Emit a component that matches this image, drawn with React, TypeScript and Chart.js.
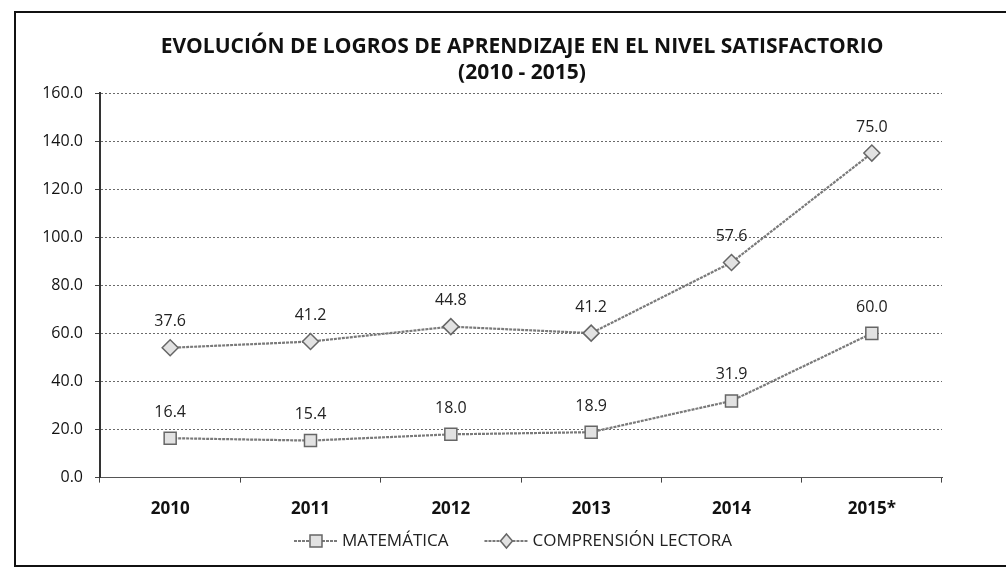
import React, { useEffect, useRef } from "react";
import { Chart, registerables } from "chart.js";

Chart.register(...registerables);

const categories = ["2010", "2011", "2012", "2013", "2014", "2015*"];
const matematica = [16.4, 15.4, 18.0, 18.9, 31.9, 60.0];
const comprension = [37.6, 41.2, 44.8, 41.2, 57.6, 75.0];
const yTicks = [0, 20, 40, 60, 80, 100, 120, 140, 160];
const titleLines = [
  "EVOLUCIÓN DE LOGROS DE APRENDIZAJE EN EL NIVEL SATISFACTORIO",
  "(2010 - 2015)",
];
const seriesNames = ["MATEMÁTICA", "COMPRENSIÓN LECTORA"];

const FONT = "'Open Sans', 'Noto Sans', sans-serif";
const LINE_COLOR = "#7a7a7a";
const MARK_BORDER = "#666";
const MARK_FILL = "#e2e2e2";

const labelPlugin = {
  id: "valueLabels",
  afterDatasetsDraw(chart: any) {
    const ctx = chart.ctx;
    ctx.save();
    ctx.font = `16px ${FONT}`;
    ctx.fillStyle = "#222";
    ctx.textAlign = "center";
    ctx.textBaseline = "middle";
    chart.data.datasets.forEach((ds: any, di: number) => {
      const meta = chart.getDatasetMeta(di);
      meta.data.forEach((pt: any, i: number) => {
        const v = ds.data[i];
        ctx.fillText(Number(v).toFixed(1), pt.x, pt.y - 26);
      });
    });
    ctx.restore();
  },
};

const titlePlugin = {
  id: "customTitle",
  afterDraw(chart: any) {
    const ctx = chart.ctx;
    ctx.save();
    ctx.font = `bold 21px ${FONT}`;
    ctx.fillStyle = "#111";
    ctx.textAlign = "center";
    ctx.textBaseline = "middle";
    ctx.fillText(titleLines[0], 522, 47);
    ctx.fillText(titleLines[1], 522, 73);
    ctx.restore();
  },
};

const legendPlugin = {
  id: "customLegend",
  afterDraw(chart: any) {
    const ctx = chart.ctx;
    ctx.save();
    ctx.font = `17px ${FONT}`;
    ctx.textBaseline = "middle";
    ctx.textAlign = "left";
    const y = 541;
    const lineW = 44;
    const gap = 4;
    const spacing = 36;
    const widths = seriesNames.map((n) => ctx.measureText(n).width);
    const total = widths.reduce((a, b) => a + b, 0) + 2 * (lineW + gap) + spacing;
    let x = 513 - total / 2;
    chart.data.datasets.forEach((ds: any, i: number) => {
      ctx.strokeStyle = LINE_COLOR;
      ctx.lineWidth = 2;
      ctx.setLineDash([3, 1]);
      ctx.beginPath();
      ctx.moveTo(x, y);
      ctx.lineTo(x + lineW, y);
      ctx.stroke();
      ctx.setLineDash([]);
      ctx.fillStyle = MARK_FILL;
      ctx.strokeStyle = MARK_BORDER;
      ctx.lineWidth = 1.5;
      const cx = x + lineW / 2;
      ctx.beginPath();
      if (i === 0) {
        ctx.rect(cx - 6, y - 6, 12, 12);
      } else {
        ctx.moveTo(cx, y - 7);
        ctx.lineTo(cx + 6, y);
        ctx.lineTo(cx, y + 7);
        ctx.lineTo(cx - 6, y);
        ctx.closePath();
      }
      ctx.fill();
      ctx.stroke();
      ctx.fillStyle = "#222";
      ctx.fillText(ds.label, x + lineW + gap, y);
      x += lineW + gap + widths[i] + spacing;
    });
    ctx.restore();
  },
};

export default function App() {
  const ref = useRef<HTMLCanvasElement | null>(null);
  useEffect(() => {
    if (!ref.current) return;
    const mkDs = (label: string, data: number[], style: string, radius: number) => ({
      label,
      data,
      borderColor: LINE_COLOR,
      borderWidth: 2.2,
      borderDash: [3, 1],
      backgroundColor: MARK_FILL,
      pointStyle: style,
      pointRadius: radius,
      pointBorderColor: MARK_BORDER,
      pointBackgroundColor: MARK_FILL,
      pointBorderWidth: 1.5,
      fill: false,
      tension: 0,
    });
    const chart = new Chart(ref.current, {
      type: "line",
      data: {
        labels: categories,
        datasets: [
          mkDs(seriesNames[0], matematica, "rect", 8.5),
          mkDs(seriesNames[1], comprension, "rectRot", 8),
        ],
      },
      options: {
        animation: false,
        responsive: false,
        layout: { padding: { top: 93, right: 64, bottom: 36, left: 0 } },
        plugins: {
          title: { display: false },
          legend: { display: false },
          tooltip: { enabled: false },
        },
        scales: {
          x: {
            offset: true,
            grid: {
              offset: true,
              drawOnChartArea: false,
              drawTicks: true,
              tickLength: 5,
              color: "#444",
            },
            border: { color: "#555", width: 1 },
            ticks: {
              color: "#111",
              font: { family: FONT, size: 17, weight: "bold" },
              padding: 16,
            },
          },
          y: {
            stacked: true,
            min: 0,
            max: 160,
            afterFit(scale: any) {
              scale.width = 100;
            },
            afterBuildTicks(scale: any) {
              scale.ticks = yTicks.map((v) => ({ value: v }));
            },
            grid: {
              color: "#6a6a6a",
              tickLength: 5,
              tickColor: "#444",
              tickBorderDash: [],
            },
            border: { color: "#333", width: 2, dash: [2, 2] },
            ticks: {
              color: "#111",
              font: { family: FONT, size: 16 },
              padding: 12,
              callback: (v: any) => Number(v).toFixed(1),
            },
          },
        },
      },
      plugins: [labelPlugin, titlePlugin, legendPlugin],
    } as any);
    return () => chart.destroy();
  }, []);

  return (
    <div style={{ position: "fixed", left: 0, top: 0, width: 1006, height: 571, background: "#fff" }}>
      <canvas ref={ref} width={1006} height={571} style={{ position: "absolute", left: 0, top: 0 }} />
      <div
        style={{
          position: "absolute",
          left: 14,
          top: 11,
          width: 1000,
          height: 552,
          borderLeft: "2px solid #111",
          borderTop: "2px solid #111",
          borderBottom: "2px solid #111",
          pointerEvents: "none",
        }}
      />
    </div>
  );
}
